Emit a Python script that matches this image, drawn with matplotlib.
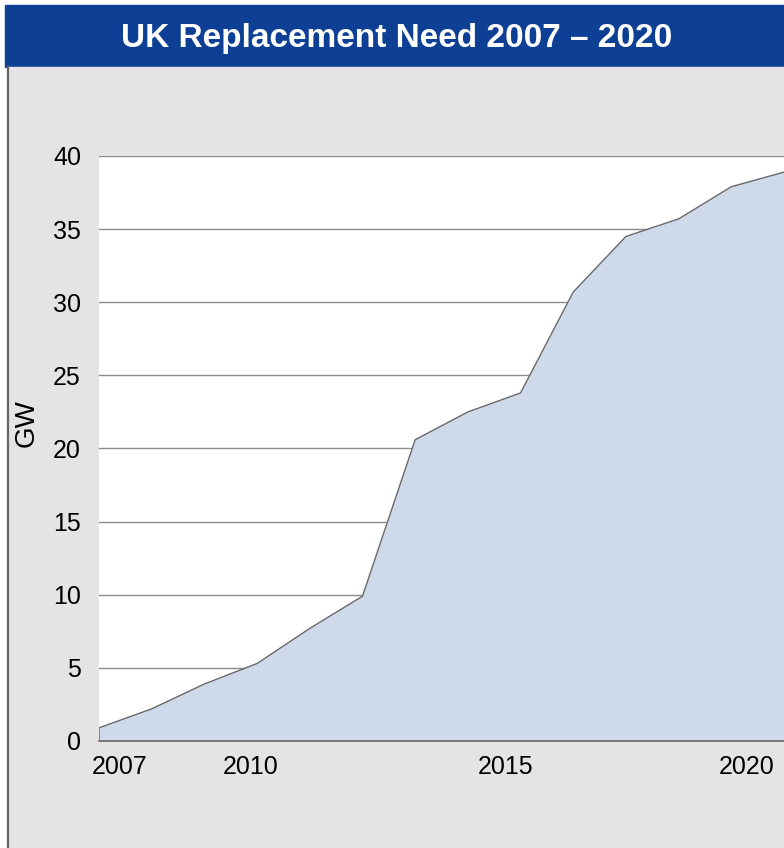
import matplotlib
matplotlib.use("Agg")
import matplotlib.pyplot as plt
from matplotlib.patches import Rectangle
from matplotlib.lines import Line2D

# replacement capacity needed, cumulative GW
years = [2007, 2008, 2009, 2010, 2011, 2012, 2013,
         2014, 2015, 2016, 2017, 2018, 2019, 2020]
gw_need = [0.9, 2.2, 3.9, 5.3, 7.7, 9.9, 20.6,
           22.5, 23.8, 30.7, 34.5, 35.7, 37.9, 38.9]
year_labels = ["2007", "2010", "2015", "2020"]
y_ticks = [0, 5, 10, 15, 20, 25, 30, 35, 40]

W, H = 784, 848
fig = plt.figure(figsize=(W / 100, H / 100), dpi=100)
fig.patch.set_facecolor("white")

# header bar and grey panel, kept behind the axes
fig.patches.append(Rectangle((5 / W, (H - 67) / H), 1, 62 / H,
                             transform=fig.transFigure, color="#0D3F95", zorder=-5))
fig.patches.append(Rectangle((7 / W, 0), 1, (H - 67) / H,
                             transform=fig.transFigure, color="#E4E4E4", zorder=-5))
fig.lines.append(Line2D([8 / W, 8 / W], [0, (H - 67) / H],
                        transform=fig.transFigure, color="#666666", lw=1.6, zorder=-4))

fig.text(397 / W, (H - 39) / H, "UK Replacement Need 2007 \u2013 2020",
         color="white", fontsize=24, fontweight="bold",
         family="Liberation Sans", ha="center", va="center")

ax = fig.add_axes([99 / W, (H - 741) / H, 1 - 99 / W, (741 - 156) / H])
ax.set_facecolor("white")

x = list(range(len(years)))
ax.fill_between(x, gw_need, 0, facecolor="#CED9EA", edgecolor="none", zorder=2)
ax.plot([0, 0] + x, [0, gw_need[0]] + gw_need, color="#6A6A6A", lw=1.0, zorder=3)

ax.set_xlim(0, len(years) - 1)
ax.set_ylim(0, 40)

ax.set_yticks(y_ticks)
ax.set_yticklabels([str(v) for v in y_ticks])
ax.grid(axis="y", color="#8C8C8C", lw=1.0, zorder=1)
ax.set_axisbelow(True)

# category labels sit off the data points, as on the original slide
label_pos = [0.39, 2.88, 7.71, 12.30]
ax.set_xticks(label_pos)
ax.set_xticklabels(year_labels)

for s in ["top", "right", "left"]:
    ax.spines[s].set_visible(False)
ax.spines["bottom"].set_color("#666666")
ax.spines["bottom"].set_linewidth(1.2)
ax.spines["bottom"].set_zorder(4)

ax.tick_params(axis="y", length=0, pad=13, labelsize=18, labelcolor="black")
ax.tick_params(axis="x", length=0, pad=10, labelsize=18, labelcolor="black")
for lbl in ax.get_xticklabels() + ax.get_yticklabels():
    lbl.set_family("Liberation Sans")

fig.text(27 / W, (H - 423) / H, "GW", rotation=90, fontsize=20,
         family="Liberation Sans", ha="center", va="center")

fig.savefig("out.png", dpi=100)
